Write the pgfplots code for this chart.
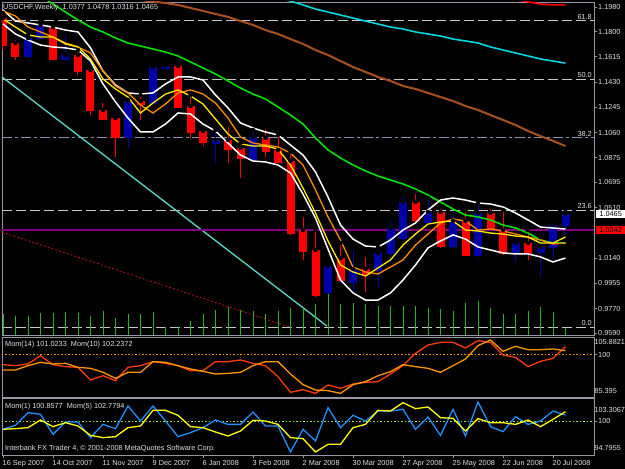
\documentclass[border=0pt]{standalone}
\usepackage{fontspec}
\setmainfont{Liberation Sans}
\usepackage{pgfplots}
\usepackage{pgfplotstable}
\pgfplotsset{compat=1.18}

\definecolor{fg}{RGB}{225,225,225}
\definecolor{brd}{RGB}{150,150,165}
\definecolor{candlered}{RGB}{255,0,0}
\definecolor{candleblue}{RGB}{0,0,170}
\definecolor{maorange}{RGB}{255,140,0}
\definecolor{mayellow}{RGB}{255,235,0}
\definecolor{magreen}{RGB}{0,225,0}
\definecolor{mabrown}{RGB}{170,80,30}
\definecolor{macyan}{RGB}{0,215,225}
\definecolor{trendc}{RGB}{95,215,200}
\definecolor{fibred}{RGB}{170,20,20}
\definecolor{hpurple}{RGB}{128,0,128}
\definecolor{volg}{RGB}{40,180,40}
\definecolor{momred}{RGB}{255,60,0}
\definecolor{momorange}{RGB}{255,150,0}
\definecolor{momblue}{RGB}{30,144,255}
\definecolor{momyellow}{RGB}{255,255,0}
\definecolor{dotgreen}{RGB}{150,230,100}
\definecolor{fibgray}{RGB}{200,200,200}
\definecolor{fibblue}{RGB}{140,140,175}

\newcommand\tf{\fontsize{7.3}{8}\selectfont}

% bearish candles: week open high low close
\pgfplotstableread{
i o h l c
0 1.1899 1.1935 1.1665 1.1701
1 1.1716 1.1753 1.1592 1.1614
4 1.1833 1.1848 1.1592 1.1599
6 1.1628 1.1665 1.1482 1.1511
7 1.1518 1.1533 1.1188 1.1218
8 1.1225 1.1291 1.1152 1.1159
9 1.1166 1.1188 1.0881 1.1027
11 1.1291 1.1335 1.1152 1.1269
14 1.1548 1.1577 1.1240 1.1247
15 1.1254 1.1335 1.1020 1.1064
16 1.1071 1.1078 1.0961 1.0990
18 1.1005 1.1115 1.0837 1.0939
19 1.0947 1.0983 1.0727 1.0873
21 1.1020 1.1100 1.0881 1.0924
22 1.0932 1.1042 1.0837 1.0844
23 1.0851 1.0917 1.0309 1.0323
24 1.0345 1.0455 1.0125 1.0191
25 1.0199 1.0345 0.9854 0.9869
27 1.0140 1.0250 0.9964 0.9972
29 1.0060 1.0162 0.9891 1.0023
33 1.0551 1.0624 1.0397 1.0412
35 1.0477 1.0514 1.0214 1.0228
37 1.0412 1.0492 1.0155 1.0162
39 1.0470 1.0514 1.0345 1.0360
40 1.0345 1.0492 1.0162 1.0177
42 1.0250 1.0345 1.0125 1.0177
}\bear

% bullish candles
\pgfplotstableread{
i o h l c
2 1.1614 1.1775 1.1606 1.1753
3 1.1753 1.1885 1.1745 1.1848
5 1.1599 1.1789 1.1592 1.1628
10 1.1027 1.1298 1.0947 1.1291
12 1.1276 1.1548 1.1269 1.1540
13 1.1533 1.1584 1.1518 1.1548
17 1.0983 1.1078 1.0837 1.1005
20 1.0866 1.1078 1.0859 1.1027
26 0.9884 1.0103 0.9862 1.0081
28 0.9964 1.0213 0.9891 1.0060
30 1.0052 1.0221 0.9920 1.0177
31 1.0177 1.0419 1.0103 1.0360
32 1.0287 1.0602 1.0272 1.0551
34 1.0404 1.0580 1.0397 1.0477
36 1.0228 1.0470 1.0214 1.0412
38 1.0162 1.0543 1.0148 1.0470
41 1.0177 1.0272 1.0111 1.0250
43 1.0184 1.0294 1.0001 1.0221
44 1.0221 1.0404 1.0125 1.0382
45 1.0377 1.0478 1.0316 1.0465
}\bull

% moving averages / envelopes
\pgfplotstableread{
i U L Y O G B
0 1.1958 1.1855 1.1892 1.1951 1.2244 1.2193
1 1.1877 1.1782 1.1833 1.1914 1.2185 1.2171
2 1.1863 1.1738 1.1775 1.1833 1.2119 1.2149
3 1.1848 1.1701 1.1760 1.1797 1.2061 1.2127
4 1.1833 1.1687 1.1760 1.1760 1.2002 1.2105
5 1.1811 1.1680 1.1709 1.1716 1.1943 1.2090
6 1.1797 1.1665 1.1687 1.1687 1.1885 1.2075
7 1.1680 1.1584 1.1599 1.1643 1.1833 1.2061
8 1.1511 1.1416 1.1452 1.1511 1.1797 1.2053
9 1.1408 1.1284 1.1379 1.1401 1.1753 1.2046
10 1.1350 1.1166 1.1320 1.1350 1.1716 1.2039
11 1.1342 1.1064 1.1203 1.1262 1.1694 1.2031
12 1.1350 1.1064 1.1276 1.1203 1.1672 1.2020
13 1.1416 1.1122 1.1342 1.1269 1.1650 1.2009
14 1.1467 1.1203 1.1372 1.1350 1.1621 1.1995
15 1.1467 1.1196 1.1328 1.1372 1.1577 1.1973
16 1.1445 1.1122 1.1269 1.1342 1.1533 1.1951
17 1.1335 1.1071 1.1159 1.1276 1.1489 1.1929
18 1.1240 1.0983 1.1049 1.1166 1.1438 1.1907
19 1.1130 1.0895 1.0976 1.1027 1.1386 1.1877
20 1.1093 1.0851 1.0961 1.0983 1.1342 1.1848
21 1.1064 1.0844 1.0961 1.0968 1.1306 1.1811
22 1.1042 1.0822 1.0939 1.0954 1.1247 1.1782
23 1.0968 1.0763 1.0822 1.0910 1.1188 1.1745
24 1.0895 1.0609 1.0653 1.0822 1.1122 1.1709
25 1.0771 1.0433 1.0470 1.0639 1.1020 1.1665
26 1.0587 1.0206 1.0265 1.0441 1.0932 1.1628
27 1.0382 0.9979 1.0089 1.0272 1.0873 1.1584
28 1.0279 0.9884 1.0038 1.0074 1.0822 1.1540
29 1.0228 0.9832 1.0008 1.0038 1.0778 1.1504
30 1.0221 0.9832 1.0067 1.0023 1.0741 1.1467
31 1.0272 0.9884 1.0126 1.0074 1.0712 1.1438
32 1.0345 0.9979 1.0235 1.0126 1.0683 1.1401
33 1.0397 1.0089 1.0316 1.0235 1.0646 1.1379
34 1.0492 1.0214 1.0389 1.0316 1.0602 1.1350
35 1.0565 1.0265 1.0404 1.0397 1.0551 1.1320
36 1.0580 1.0309 1.0411 1.0426 1.0499 1.1291
37 1.0565 1.0279 1.0345 1.0411 1.0455 1.1254
38 1.0543 1.0221 1.0338 1.0345 1.0441 1.1225
39 1.0536 1.0199 1.0323 1.0353 1.0419 1.1188
40 1.0514 1.0177 1.0316 1.0338 1.0382 1.1152
41 1.0470 1.0170 1.0301 1.0316 1.0360 1.1115
42 1.0419 1.0170 1.0294 1.0294 1.0323 1.1071
43 1.0367 1.0148 1.0250 1.0272 1.0272 1.1034
44 1.0360 1.0111 1.0250 1.0243 1.0250 1.0998
45 1.0353 1.0140 1.0294 1.0250 1.0250 1.0961
}\mas

% volume (tick volume, relative)
\pgfplotstableread{
i v
0 21
1 19
2 19
3 22
4 22
5 23
6 22
7 19
8 24
9 17
10 21
11 21
12 23
13 8
14 8
15 14
16 21
17 25
18 28
19 25
20 24
21 21
22 24
23 27
24 27
25 31
26 41
27 31
28 32
29 31
30 29
31 29
32 29
33 29
34 27
35 26
36 24
37 32
38 34
39 27
40 21
41 21
42 24
43 28
44 23
45 7
}\vol

% Momentum panel 1: A = red line, B = orange line
\pgfplotstableread{
i A B
0 96.32 94.33
1 95.95 94.33
2 96.57 95.95
3 99.67 97.19
4 96.32 96.57
5 95.58 96.82
6 95.33 95.33
7 90.61 94.96
8 92.22 93.47
9 90.36 91.23
10 95.33 93.47
11 95.95 93.47
12 97.44 97.44
13 96.82 97.19
14 95.95 95.95
15 94.09 94.71
16 94.09 93.84
17 97.44 92.84
18 97.44 93.09
19 98.06 93.47
20 96.82 95.95
21 95.95 97.44
22 91.85 97.44
23 86.02 92.84
24 87.00 88.90
25 85.64 86.88
26 88.75 86.64
27 87.51 85.64
28 89.12 88.87
29 89.74 89.99
30 89.99 92.22
31 92.84 93.71
32 95.95 96.32
33 100.54 95.58
34 103.65 94.96
35 104.64 93.47
36 104.64 95.95
37 102.53 98.43
38 105.26 103.40
39 104.64 105.51
40 99.92 101.29
41 99.05 103.15
42 95.58 101.91
43 97.56 101.91
44 98.68 102.16
45 103.02 101.53
}\momA

% Momentum panel 2: M1 = blue, M5 = yellow
\pgfplotstableread{
i M1 M5
0 98.66 98.66
1 99.34 98.77
2 101.49 98.94
3 101.21 100.24
4 97.80 99.11
5 99.90 99.79
6 99.90 99.22
7 97.24 97.63
8 99.50 97.24
9 98.77 97.41
10 102.63 98.94
11 100.07 99.22
12 102.63 101.89
13 100.07 101.89
14 97.41 101.04
15 98.09 99.11
16 98.94 98.94
17 100.24 98.20
18 99.50 97.52
19 99.50 98.37
20 101.61 100.19
21 99.22 100.07
22 99.22 99.50
23 94.80 97.24
24 98.66 97.07
25 96.67 94.80
26 102.34 96.10
27 98.94 96.10
28 101.04 98.94
29 100.07 99.50
30 101.77 101.89
31 101.77 101.77
32 102.06 103.19
33 98.66 102.17
34 100.75 102.46
35 97.63 100.64
36 102.06 100.53
37 97.52 98.37
38 103.31 100.47
39 99.11 99.79
40 98.26 99.79
41 100.81 99.50
42 99.50 100.24
43 100.07 99.11
44 101.77 100.36
45 101.09 101.66
}\momB

\pgfplotsset{
  mt/.style={
    scale only axis, width=592pt, xmin=-0.08, xmax=47.28,
    anchor=south west,
    axis line style={brd, line width=0.8pt},
    tick style={brd, line width=0.6pt},
    tick align=outside, major tick length=3pt,
    ticklabel style={font=\tf, text=fg},
    /pgf/number format/assume math mode=true,
    ytick pos=right, yticklabel pos=right,
    yticklabel style={anchor=west, inner sep=1pt},
  }
}

\begin{document}
\begin{tikzpicture}[x=1pt,y=1pt]
\useasboundingbox (0,0) rectangle (625,469);
\fill[black] (0,0) rectangle (625,469);

% ---------------- main price panel ----------------
\begin{axis}[mt, at={(2pt,134pt)}, height=333pt,
  ymin=0.95757, ymax=1.20166, xtick=\empty,
  ytick={0.959,0.977,0.9955,1.014,1.051,1.0695,1.0875,1.106,1.1245,1.143,1.1615,1.18,1.198},
  yticklabels={0.9590,0.9770,0.9955,1.0140,1.0510,1.0695,1.0875,1.1060,1.1245,1.1430,1.1615,1.1800,1.1980}]
% Fibonacci levels
\addplot[fibgray, line width=0.8pt, dash pattern=on 10pt off 4pt] coordinates {(-0.08,1.1881) (47.28,1.1881)};
\addplot[fibgray, line width=0.8pt, dash pattern=on 10pt off 4pt] coordinates {(-0.08,1.1452) (47.28,1.1452)};
\addplot[fibblue, line width=1pt, dash pattern=on 10pt off 3pt on 3pt off 3pt] coordinates {(-0.08,1.1023) (47.28,1.1023)};
\addplot[fibgray, line width=0.8pt, dash pattern=on 10pt off 4pt] coordinates {(-0.08,1.0492) (47.28,1.0492)};
\addplot[fibgray, line width=0.8pt, dash pattern=on 10pt off 4pt] coordinates {(-0.08,0.9634) (47.28,0.9634)};
\node[anchor=south east, font=\tf, text=fg, inner sep=1pt] at (axis cs:47.2,1.1881) {61.8};
\node[anchor=south east, font=\tf, text=fg, inner sep=1pt] at (axis cs:47.2,1.1452) {50.0};
\node[anchor=south east, font=\tf, text=fg, inner sep=1pt] at (axis cs:47.2,1.1023) {38.2};
\node[anchor=south east, font=\tf, text=fg, inner sep=1pt] at (axis cs:47.2,1.0492) {23.6};
\node[anchor=south east, font=\tf, text=fg, inner sep=1pt] at (axis cs:47.2,0.9634) {0.0};
% Fibonacci base line (dotted) and trend line
\addplot[fibred, line width=0.9pt, dash pattern=on 2pt off 2pt] coordinates {(-0.08,1.0330) (22.96,0.9634)};
\addplot[trendc, line width=1.3pt] coordinates {(-0.08,1.1467) (25.92,0.9641)};
% horizontal line
\addplot[hpurple, line width=2pt] coordinates {(-0.08,1.0342) (47.28,1.0342)};
% candles: wicks then bodies
\addplot[only marks, mark=none, error bars/.cd, y dir=minus, y explicit, error mark=none,
  error bar style={candlered, line width=1pt}]
  table[x=i, y=h, y error minus expr={\thisrow{h}-\thisrow{l}}] {\bear};
\addplot[only marks, mark=none, error bars/.cd, y dir=minus, y explicit, error mark=none,
  error bar style={candleblue, line width=1pt}]
  table[x=i, y=h, y error minus expr={\thisrow{h}-\thisrow{l}}] {\bull};
\addplot[only marks, mark=none, error bars/.cd, y dir=minus, y explicit, error mark=none,
  error bar style={candlered, line width=8pt}]
  table[x=i, y=o, y error minus expr={\thisrow{o}-\thisrow{c}+0.0004}] {\bear};
\addplot[only marks, mark=none, error bars/.cd, y dir=minus, y explicit, error mark=none,
  error bar style={candleblue, line width=8pt}]
  table[x=i, y=c, y error minus expr={\thisrow{c}-\thisrow{o}+0.0004}] {\bull};
% moving averages
\addplot[mabrown, line width=2pt] table[x=i, y=B] {\mas};
\addplot[macyan, line width=1.6pt] coordinates {(20,1.2090) (21,1.2066) (22,1.2041) (23,1.2024) (24,1.1995) (25,1.1965) (26,1.1943) (27,1.1921) (28,1.1899) (29,1.1877) (30,1.1855) (31,1.1833) (32,1.1819) (33,1.1797) (34,1.1782) (35,1.1767) (36,1.1745) (37,1.1731) (38,1.1716) (39,1.1687) (40,1.1665) (41,1.1643) (42,1.1621) (43,1.1599) (44,1.1584) (45,1.1569)};
\addplot[red, line width=1.6pt] coordinates {(39,1.2090) (40,1.2061) (41,1.2039) (42,1.2017) (43,1.2002) (44,1.1995) (45,1.1995)};
\addplot[magreen, line width=1.6pt] table[x=i, y=G] {\mas};
\addplot[white, line width=1.5pt] table[x=i, y=U] {\mas};
\addplot[white, line width=1.5pt] table[x=i, y=L] {\mas};
\addplot[maorange, line width=1.3pt] table[x=i, y=O] {\mas};
\addplot[mayellow, line width=1.3pt] table[x=i, y=Y] {\mas};
\end{axis}

% volume overlay
\begin{axis}[scale only axis, width=592pt, height=333pt, at={(2pt,134pt)}, anchor=south west,
  xmin=-0.08, xmax=47.28, ymin=0, ymax=333, axis lines=none]
\addplot[volg, line width=1pt, ycomb, mark=none] table[x=i, y=v] {\vol};
\end{axis}

% ---------------- Momentum 14 / 10 ----------------
\begin{axis}[mt, at={(2pt,72pt)}, height=60pt,
  ymin=84.278, ymax=106.627, xtick=\empty, ytick={100}, yticklabels={100}]
\addplot[momorange, line width=1.4pt, dash pattern=on 1.5pt off 2pt] coordinates {(-0.08,100) (47.28,100)};
\addplot[momred, line width=1.3pt] table[x=i, y=A] {\momA};
\addplot[momorange, line width=1.3pt] table[x=i, y=B] {\momA};
\end{axis}

% ---------------- Momentum 1 / 5 ----------------
\begin{axis}[mt, at={(2pt,14pt)}, height=57pt,
  ymin=94.285, ymax=103.988, ytick={100}, yticklabels={100},
  xtick={0,4,8,12,16,20,24,28,32,36,40,44}, xtick pos=bottom,
  xticklabels={16 Sep 2007,14 Oct 2007,11 Nov 2007,9 Dec 2007,6 Jan 2008,3 Feb 2008,2 Mar 2008,30 Mar 2008,27 Apr 2008,25 May 2008,22 Jun 2008,20 Jul 2008},
  xticklabel style={anchor=north west, inner sep=0pt, yshift=-2pt, xshift=-0.5pt}]
\addplot[dotgreen, line width=1.2pt, dash pattern=on 1.5pt off 2pt] coordinates {(-0.08,100) (47.28,100)};
\addplot[momblue, line width=1.3pt] table[x=i, y=M1] {\momB};
\addplot[momyellow, line width=1.3pt] table[x=i, y=M5] {\momB};
\end{axis}

% ---------------- texts ----------------
\node[anchor=west, font=\tf, text=fg, inner sep=0pt] at (3,461.5) {USDCHF,Weekly\ \ 1.0377 1.0478 1.0316 1.0465};
\node[anchor=west, font=\tf, text=fg, inner sep=0pt] at (5,124.5) {Mom(14) 101.0233\ \ Mom(10) 102.2372};
\node[anchor=west, font=\tf, text=fg, inner sep=0pt] at (5,62.5) {Mom(1) 100.8577\ \ Mom(5) 102.7794};
\node[anchor=west, font=\tf, text=fg, inner sep=0pt] at (5,20) {Interbank FX Trader 4, \textcopyright\ 2001-2008 MetaQuotes Software Corp.};
\node[anchor=west, font=\tf, text=fg, inner sep=0pt] at (594.3,127) {105.8821};
\node[anchor=west, font=\tf, text=fg, inner sep=0pt] at (594.3,78) {85.395};
\node[anchor=west, font=\tf, text=fg, inner sep=0pt] at (594.3,59.5) {103.3067};
\node[anchor=west, font=\tf, text=fg, inner sep=0pt] at (594.3,21.5) {94.7955};
\node[anchor=west, font=\tf, fill=white, text=black, inner sep=1pt, minimum width=29pt] at (596,255) {1.0465};
\node[anchor=west, font=\tf, fill=red, text=black, inner sep=1pt, minimum width=29pt] at (596,239) {1.0342};
\end{tikzpicture}
\end{document}
